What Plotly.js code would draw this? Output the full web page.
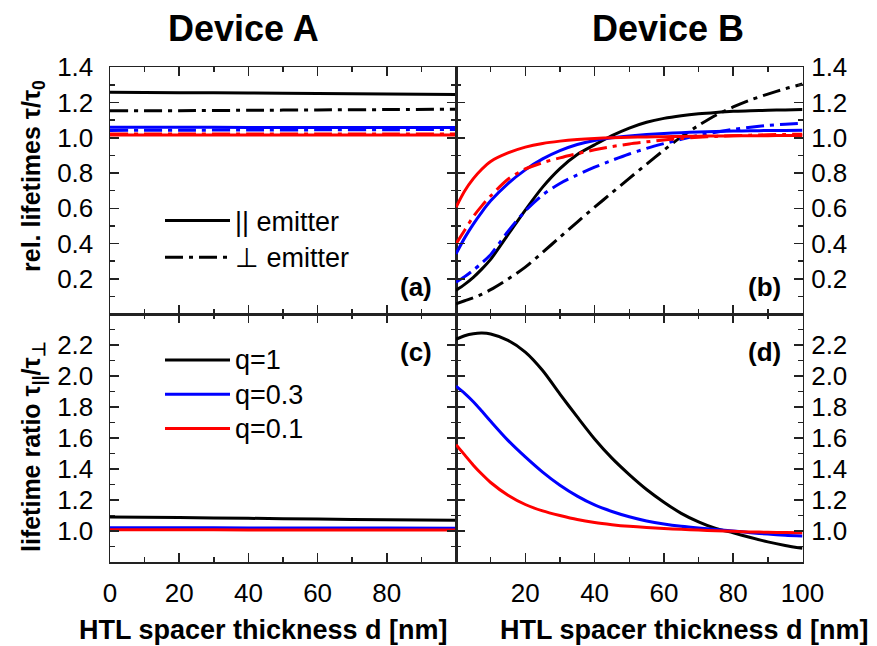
<!DOCTYPE html>
<html>
<head>
<meta charset="utf-8">
<script src="https://cdn.plot.ly/plotly-3.0.1.min.js"></script>
<style>html,body{margin:0;padding:0;background:#fff;} #chart{width:877px;height:646px;}</style>
</head>
<body>
<div id="chart"></div>
<script>
// ---- Device A (thickness d in nm) ----
const dA = [0, 20, 40, 60, 80, 100];
const A_par_q1   = [1.258, 1.256, 1.254, 1.251, 1.248, 1.246];
const A_perp_q1  = [1.153, 1.154, 1.156, 1.158, 1.160, 1.162];
const A_par_q03  = [1.060, 1.060, 1.059, 1.059, 1.058, 1.058];
const A_perp_q03 = [1.042, 1.043, 1.044, 1.045, 1.046, 1.047];
const A_par_q01  = [1.016, 1.016, 1.016, 1.016, 1.016, 1.016];
const A_perp_q01 = [1.022, 1.022, 1.022, 1.022, 1.022, 1.022];
const A_ratio_q1  = [1.091, 1.087, 1.082, 1.077, 1.072, 1.069];
const A_ratio_q03 = [1.021, 1.021, 1.020, 1.020, 1.019, 1.018];
const A_ratio_q01 = [1.008, 1.008, 1.007, 1.007, 1.007, 1.007];

// ---- Device B ----
const dB = [0, 2.5, 5, 7.5, 10, 15, 20, 25, 30, 35, 40, 45, 50, 55, 60, 65, 70, 75, 80, 85, 90, 95, 100];
const B_par_q1   = [0.134, 0.168, 0.208, 0.256, 0.310, 0.450, 0.590, 0.720, 0.825, 0.905, 0.960, 1.012, 1.055, 1.088, 1.110, 1.125, 1.136, 1.144, 1.150, 1.153, 1.156, 1.158, 1.160];
const B_perp_q1  = [0.058, 0.075, 0.092, 0.113, 0.138, 0.198, 0.266, 0.350, 0.436, 0.522, 0.606, 0.688, 0.770, 0.850, 0.930, 1.005, 1.070, 1.128, 1.175, 1.215, 1.248, 1.278, 1.305];
const B_par_q03  = [0.341, 0.432, 0.510, 0.580, 0.642, 0.740, 0.818, 0.880, 0.927, 0.962, 0.985, 1.000, 1.010, 1.018, 1.024, 1.029, 1.033, 1.036, 1.038, 1.040, 1.041, 1.042, 1.043];
const B_perp_q03 = [0.180, 0.212, 0.249, 0.290, 0.337, 0.469, 0.585, 0.676, 0.741, 0.789, 0.833, 0.872, 0.908, 0.940, 0.967, 0.991, 1.013, 1.032, 1.048, 1.060, 1.070, 1.077, 1.083];
const B_par_q01  = [0.606, 0.698, 0.768, 0.823, 0.866, 0.914, 0.947, 0.968, 0.981, 0.990, 0.996, 1.000, 1.003, 1.005, 1.006, 1.008, 1.009, 1.010, 1.011, 1.012, 1.012, 1.013, 1.013];
const B_perp_q01 = [0.398, 0.475, 0.553, 0.615, 0.670, 0.765, 0.823, 0.859, 0.886, 0.910, 0.932, 0.950, 0.965, 0.977, 0.988, 0.996, 1.003, 1.008, 1.012, 1.015, 1.017, 1.019, 1.020];
const B_ratio_q1  = [2.237, 2.260, 2.273, 2.277, 2.271, 2.230, 2.154, 2.035, 1.883, 1.736, 1.594, 1.470, 1.364, 1.268, 1.186, 1.114, 1.059, 1.016, 0.988, 0.958, 0.930, 0.907, 0.888];
const B_ratio_q03 = [1.935, 1.888, 1.834, 1.772, 1.708, 1.585, 1.478, 1.380, 1.295, 1.225, 1.168, 1.126, 1.092, 1.065, 1.045, 1.030, 1.019, 1.010, 1.000, 0.989, 0.980, 0.973, 0.968];
const B_ratio_q01 = [1.557, 1.491, 1.425, 1.366, 1.313, 1.231, 1.171, 1.130, 1.100, 1.074, 1.055, 1.041, 1.030, 1.022, 1.016, 1.011, 1.006, 1.002, 0.998, 0.994, 0.992, 0.990, 0.989];

// ---- tick labels ----
const xTickValsLeft  = [0, 20, 40, 60, 80];
const xTickTextLeft  = ['0', '20', '40', '60', '80'];
const xTickValsRight = [20, 40, 60, 80, 100];
const xTickTextRight = ['20', '40', '60', '80', '100'];
const yTopVals = [0.2, 0.4, 0.6, 0.8, 1.0, 1.2, 1.4];
const yTopText = ['0.2', '0.4', '0.6', '0.8', '1.0', '1.2', '1.4'];
const yBotVals = [1.0, 1.2, 1.4, 1.6, 1.8, 2.0, 2.2];
const yBotText = ['1.0', '1.2', '1.4', '1.6', '1.8', '2.0', '2.2'];

const FONT = 'Liberation Sans, Arial, Helvetica, sans-serif';
const BLACK = '#000000', BLUE = '#0000ff', RED = '#ff0000';
const DASHDOT = '18px,6px,4px,6px';
const LW = 3;
const big = s => '<span style="font-size:27px">' + s + '</span>';

function tr(x, y, xa, ya, color, dash, extra) {
  return Object.assign({
    type: 'scatter', mode: 'lines', x: x, y: y, xaxis: xa, yaxis: ya,
    line: {color: color, width: LW, dash: dash, shape: 'spline', smoothing: 0.8},
    showlegend: false, hoverinfo: 'skip'
  }, extra || {});
}

const traces = [
  // panel (a)
  tr(dA, A_par_q1, 'x', 'y', BLACK, 'solid', {name: big('|| emitter'), showlegend: true, legend: 'legend'}),
  tr(dA, A_perp_q1, 'x', 'y', BLACK, DASHDOT, {name: big('\u22A5 emitter'), showlegend: true, legend: 'legend'}),
  tr(dA, A_par_q03, 'x', 'y', BLUE, 'solid'),
  tr(dA, A_perp_q03, 'x', 'y', BLUE, DASHDOT),
  tr(dA, A_par_q01, 'x', 'y', RED, 'solid'),
  tr(dA, A_perp_q01, 'x', 'y', RED, DASHDOT),
  // panel (b)
  tr(dB, B_par_q1, 'x2', 'y2', BLACK, 'solid'),
  tr(dB, B_perp_q1, 'x2', 'y2', BLACK, DASHDOT),
  tr(dB, B_par_q03, 'x2', 'y2', BLUE, 'solid'),
  tr(dB, B_perp_q03, 'x2', 'y2', BLUE, DASHDOT),
  tr(dB, B_par_q01, 'x2', 'y2', RED, 'solid'),
  tr(dB, B_perp_q01, 'x2', 'y2', RED, DASHDOT),
  // panel (c)
  tr(dA, A_ratio_q1, 'x3', 'y3', BLACK, 'solid', {name: big('q=1'), showlegend: true, legend: 'legend2'}),
  tr(dA, A_ratio_q03, 'x3', 'y3', BLUE, 'solid', {name: big('q=0.3'), showlegend: true, legend: 'legend2'}),
  tr(dA, A_ratio_q01, 'x3', 'y3', RED, 'solid', {name: big('q=0.1'), showlegend: true, legend: 'legend2'}),
  // panel (d)
  tr(dB, B_ratio_q1, 'x4', 'y4', BLACK, 'solid'),
  tr(dB, B_ratio_q03, 'x4', 'y4', BLUE, 'solid'),
  tr(dB, B_ratio_q01, 'x4', 'y4', RED, 'solid')
];

const W = 877, H = 646;
const px = v => v / W;
const py = v => 1 - v / H;

const common = {
  showgrid: false, zeroline: false, showline: true, linecolor: '#222', linewidth: 1.5,
  mirror: 'allticks', ticks: 'inside', ticklen: 9, tickwidth: 1.5, tickcolor: '#222',
  tickfont: {family: FONT, size: 26, color: '#000'}, fixedrange: true
};
const xMinor = {tickmode: 'linear', tick0: 0, dtick: 10, ticks: 'inside', ticklen: 5, tickwidth: 1.5, tickcolor: '#222'};
const yMinor = {tickmode: 'linear', tick0: 0, dtick: 0.1, ticks: 'inside', ticklen: 5, tickwidth: 1.5, tickcolor: '#222'};

const xL = [px(110), px(456)], xR = [px(456), px(802.5)];
const yT = [py(314), py(67.3)], yB = [py(562), py(314)];

const ann = (text, x, y, size, extra) => Object.assign({
  text: text, x: px(x), y: py(y), xref: 'paper', yref: 'paper', showarrow: false,
  xanchor: 'center', yanchor: 'middle', font: {family: FONT, size: size, color: '#000'}
}, extra || {});

const layout = {
  width: W, height: H,
  margin: {l: 0, r: 0, t: 0, b: 0},
  paper_bgcolor: '#fff', plot_bgcolor: 'rgba(0,0,0,0)',
  font: {family: FONT, color: '#000'},
  xaxis:  Object.assign({}, common, {domain: xL, range: [0, 100], anchor: 'y',  tickmode: 'array', tickvals: xTickValsLeft,  ticktext: xTickTextLeft,  showticklabels: false, minor: xMinor}),
  xaxis2: Object.assign({}, common, {domain: xR, range: [0, 100], anchor: 'y2', tickmode: 'array', tickvals: xTickValsRight, ticktext: xTickTextRight, showticklabels: false, minor: xMinor}),
  xaxis3: Object.assign({}, common, {domain: xL, range: [0, 100], anchor: 'y3', tickmode: 'array', tickvals: xTickValsLeft,  ticktext: xTickTextLeft,  ticklabelstandoff: 7, minor: xMinor}),
  xaxis4: Object.assign({}, common, {domain: xR, range: [0, 100], anchor: 'y4', tickmode: 'array', tickvals: xTickValsRight, ticktext: xTickTextRight, ticklabelstandoff: 7, minor: xMinor}),
  yaxis:  Object.assign({}, common, {domain: yT, range: [0, 1.4], anchor: 'x',  side: 'left',  tickmode: 'array', tickvals: yTopVals, ticktext: yTopText, ticklabelstandoff: 10, minor: yMinor}),
  yaxis2: Object.assign({}, common, {domain: yT, range: [0, 1.4], anchor: 'x2', side: 'right', tickmode: 'array', tickvals: yTopVals, ticktext: yTopText, ticklabelstandoff: 2, minor: yMinor}),
  yaxis3: Object.assign({}, common, {domain: yB, range: [0.8, 2.4], anchor: 'x3', side: 'left',  tickmode: 'array', tickvals: yBotVals, ticktext: yBotText, ticklabelstandoff: 10, minor: yMinor}),
  yaxis4: Object.assign({}, common, {domain: yB, range: [0.8, 2.4], anchor: 'x4', side: 'right', tickmode: 'array', tickvals: yBotVals, ticktext: yBotText, ticklabelstandoff: 2, minor: yMinor}),
  legend:  {x: px(160), y: py(197), xanchor: 'left', yanchor: 'top', bgcolor: 'rgba(0,0,0,0)', font: {family: FONT, size: 26, color: '#000'}, itemwidth: 65, tracegroupgap: 0},
  legend2: {x: px(160), y: py(338), xanchor: 'left', yanchor: 'top', bgcolor: 'rgba(0,0,0,0)', font: {family: FONT, size: 24, color: '#000'}, itemwidth: 65, tracegroupgap: 0},
  annotations: [
    ann('<b>Device A</b>', 243, 29, 36),
    ann('<b>Device B</b>', 668, 29, 36),
    ann('<b>HTL spacer thickness d [nm]</b>', 263, 630, 27),
    ann('<b>HTL spacer thickness d [nm]</b>', 684, 630, 27),
    ann('<b>rel. lifetimes \u03C4/\u03C4<sub>0</sub></b>', 33, 176, 25, {textangle: -90}),
    ann('<b>lifetime ratio \u03C4<sub>||</sub>/\u03C4<sub>\u22A5</sub></b>', 33, 447, 25, {textangle: -90}),
    ann('<b>(a)</b>', 416, 287, 26),
    ann('<b>(b)</b>', 764, 287, 26),
    ann('<b>(c)</b>', 416, 352, 26),
    ann('<b>(d)</b>', 764, 352, 26)
  ]
};

Plotly.newPlot('chart', traces, layout, {staticPlot: true, displayModeBar: false});
</script>
</body>
</html>
